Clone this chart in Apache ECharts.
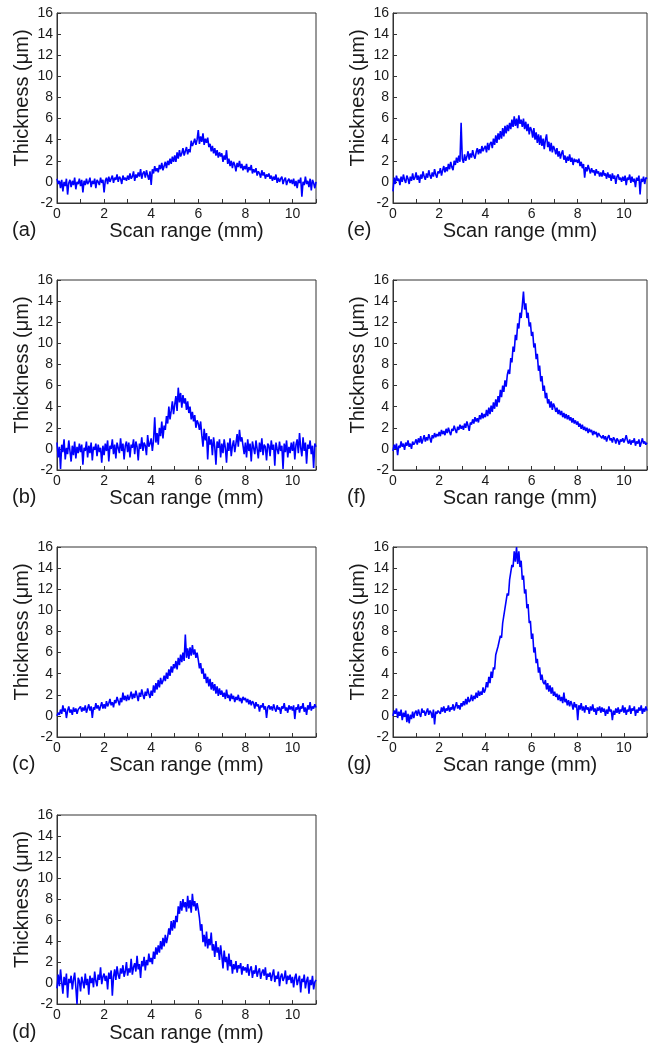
<!DOCTYPE html>
<html>
<head>
<meta charset="utf-8">
<script src="https://cdn.jsdelivr.net/npm/echarts@6/dist/echarts.min.js"></script>
<style>
html,body{margin:0;padding:0;background:#fff;}
#chart{width:650px;height:1044px;}
</style>
</head>
<body>
<div id="chart"></div>
<script>
// Sample spacing along scan (mm)
const scanStep = 0.05;
const xTickLabels = [0, 2, 4, 6, 8, 10];
const yTickLabels = [-2, 0, 2, 4, 6, 8, 10, 12, 14, 16];
const panelLabels = ['(a)', '(b)', '(c)', '(d)', '(e)', '(f)', '(g)'];

// Thickness (um) samples, 0 .. 11 mm
const thickA = [
0.3,-0.2,0.1,-0.6,0.2,-0.9,0.0,-0.4,0.3,-1.2,-0.1,0.2,-0.5,0.1,-0.3,0.4,-0.7,0.0,-0.2,0.3,
-0.4,0.2,-1.0,0.1,-0.3,0.3,-0.2,0.0,0.4,-0.5,0.1,-0.2,0.3,-0.6,0.2,0.0,-0.3,0.4,-0.1,0.2,
-1.0,0.1,0.4,-0.2,0.5,0.0,0.3,0.6,-0.1,0.4,0.2,0.7,0.0,0.5,0.3,-0.2,0.6,0.2,0.4,0.1,
0.6,0.2,0.8,0.3,0.5,1.0,0.1,0.7,0.4,0.9,0.5,1.2,0.3,0.8,1.0,0.4,1.1,0.6,0.2,1.0,
-0.3,1.2,0.8,1.5,1.0,1.3,0.9,1.6,1.2,1.8,1.1,1.5,1.9,1.3,2.0,1.6,2.2,1.7,2.4,1.9,
2.5,1.9,2.8,2.2,3.0,2.4,2.7,3.2,2.5,2.9,3.3,2.6,3.1,2.8,3.9,3.4,3.7,4.1,3.5,4.0,
4.9,3.6,4.3,3.8,4.6,3.5,4.1,3.7,4.2,3.3,3.6,2.9,3.4,2.7,3.2,2.5,3.0,2.3,2.8,2.4,
2.7,1.9,2.5,2.1,3.0,1.7,2.2,1.5,2.0,1.3,1.9,1.6,1.0,1.8,1.4,2.0,1.3,1.7,1.1,1.5,
1.2,1.7,0.9,1.4,1.1,1.6,0.8,1.2,0.9,1.3,0.6,1.0,0.8,0.4,1.1,0.6,0.9,0.3,0.7,0.5,
0.8,0.3,0.6,0.1,0.5,0.2,0.7,-0.1,0.4,0.0,0.3,0.5,-0.2,0.2,0.4,-0.3,0.1,0.3,-0.1,0.2,
-0.2,0.3,-0.4,0.1,-0.6,0.2,-0.1,0.4,-1.4,0.0,-0.3,0.5,-0.2,0.1,-0.5,0.3,-0.8,0.2,-0.1,-0.6,
0.0];

const thickB = [
0.6,-0.8,0.2,-1.9,0.4,-0.3,0.9,-1.0,0.1,-0.5,0.8,-0.2,-1.2,0.3,-0.6,0.7,-0.9,0.2,-0.4,0.5,
-0.3,0.4,-1.5,0.1,-0.2,0.7,-0.8,0.3,-0.4,0.6,-1.1,0.2,-0.1,0.5,-0.7,0.4,-0.3,0.1,-1.3,0.3,
-0.6,0.5,-0.2,0.8,-1.2,0.3,0.0,0.9,-0.5,0.4,-0.9,0.6,0.1,-0.4,1.0,-0.2,0.5,-1.0,0.3,0.7,
-0.3,0.6,-0.8,0.4,0.1,0.9,-0.5,0.7,0.2,-1.1,0.5,0.0,1.1,-0.2,0.6,0.3,-0.6,1.3,0.2,0.5,
1.0,-0.2,0.8,3.0,0.6,1.5,0.4,2.0,1.2,2.6,1.0,2.2,1.8,3.1,2.4,4.0,2.8,3.6,4.5,3.3,
4.2,5.0,3.6,5.8,4.4,5.3,3.9,5.1,4.3,4.8,3.7,4.5,3.4,4.0,2.8,3.5,2.6,3.2,2.0,2.7,
2.4,1.8,2.6,1.3,0.2,1.9,0.8,1.5,-1.0,1.2,0.4,0.9,-0.6,1.1,0.2,-1.5,0.7,0.1,0.9,-0.8,
0.5,-0.4,0.9,0.1,-1.3,0.6,-0.2,1.0,-0.7,0.3,0.8,-0.3,0.5,1.4,0.2,1.8,0.7,1.1,0.3,-0.5,
0.6,-0.8,0.9,-0.2,0.5,-1.2,0.7,0.1,-0.5,0.8,0.0,-0.9,0.6,-0.3,1.0,-0.6,0.4,0.2,-1.1,0.5,
0.3,-0.7,0.8,-0.1,0.4,-1.6,0.6,0.0,-0.5,0.7,-0.2,0.3,-1.9,0.5,-0.3,0.8,-0.8,0.2,-0.4,0.6,
-0.2,0.7,-1.0,0.4,0.9,-0.4,1.5,0.1,-0.7,1.1,-0.2,0.6,-1.4,0.4,0.0,0.8,-0.5,0.3,-1.8,0.5,
0.2];

const thickC = [
0.0,0.3,0.1,0.6,0.2,1.0,0.4,0.7,-0.2,0.5,0.9,0.3,0.6,0.1,0.8,0.4,0.7,0.2,0.6,0.5,
0.9,0.4,0.8,0.5,1.0,0.3,0.7,1.1,0.5,0.9,-0.2,0.8,0.6,1.2,0.7,1.0,0.5,0.9,1.3,0.7,
1.1,0.7,1.4,0.9,1.2,1.6,1.0,1.3,0.8,1.5,1.2,1.8,1.4,1.0,1.7,1.3,2.2,1.5,1.9,1.4,
2.0,1.5,1.8,2.3,1.6,2.1,1.7,2.4,1.9,1.4,2.2,1.8,2.5,2.0,1.6,2.3,1.9,2.6,2.1,1.7,
2.4,1.9,2.9,2.2,3.1,2.5,3.4,2.7,3.6,3.0,3.3,3.8,3.3,4.1,3.5,4.4,3.8,4.7,4.1,4.9,
4.5,5.2,4.4,5.5,4.8,5.8,5.1,6.0,5.2,7.7,5.5,6.4,5.4,6.5,5.7,6.7,5.8,6.3,5.5,6.0,
5.3,4.5,5.0,4.0,4.5,3.5,4.0,3.1,3.7,2.8,3.5,2.5,3.2,2.4,3.0,2.1,2.8,1.9,2.6,2.0,
2.4,1.8,2.2,1.6,2.5,1.7,2.0,1.4,2.1,1.6,1.9,1.3,1.8,1.5,2.0,1.4,1.7,1.2,1.8,1.5,
1.7,1.3,1.6,1.1,1.5,1.0,1.4,1.2,0.7,1.3,0.9,1.1,0.4,1.0,0.8,1.2,0.6,0.9,-0.2,0.8,
1.0,0.6,0.9,0.5,1.1,0.7,0.4,1.0,0.6,0.8,0.2,0.9,0.7,1.2,0.5,0.8,0.3,1.0,0.6,0.9,
0.5,1.0,-0.3,0.8,0.6,1.1,0.3,0.9,0.7,1.2,0.4,0.8,0.1,1.0,0.6,1.3,0.5,0.9,0.7,1.1,
0.8];

const thickD = [
-0.5,0.8,-0.3,1.3,0.1,-1.0,0.6,-0.2,0.9,-1.4,0.4,0.0,0.7,-0.6,0.3,1.0,-0.4,-2.0,0.5,0.2,
-0.8,0.6,0.1,-0.5,0.9,-0.2,0.4,-1.1,0.7,0.0,0.5,-0.4,1.1,0.2,-0.3,0.8,0.3,1.5,-0.1,0.6,
0.9,0.2,0.7,-0.6,1.0,0.4,1.2,-1.2,0.6,1.3,0.3,1.6,0.8,0.4,1.4,0.9,1.7,0.6,1.1,2.0,
0.7,1.4,1.0,2.3,0.8,1.5,1.9,1.1,2.6,1.3,1.8,0.5,2.1,1.6,2.5,1.2,2.2,1.7,2.8,2.0,
2.4,1.8,3.0,2.3,3.4,2.7,3.6,2.9,4.0,3.2,4.3,3.5,4.6,3.8,4.4,5.2,4.6,5.9,5.0,6.0,
5.2,6.4,5.8,7.3,6.6,7.8,6.9,8.0,7.2,7.7,6.8,8.3,7.1,7.9,6.7,8.5,7.3,7.8,6.9,7.6,
7.0,6.2,5.0,5.6,3.9,4.6,3.5,4.9,3.3,4.2,3.6,4.8,3.1,3.7,2.5,4.0,2.9,3.4,2.2,3.6,
2.6,1.4,3.1,2.0,2.5,1.2,2.8,1.6,2.2,0.9,1.8,1.3,2.1,1.0,1.7,1.4,1.9,0.8,1.6,1.2,
1.5,1.0,1.8,0.7,1.3,1.6,0.5,1.2,0.9,1.7,0.6,1.1,1.4,0.4,1.0,1.3,0.7,1.5,0.3,0.9,
0.6,1.0,0.2,0.8,1.3,0.1,0.7,0.4,1.1,-0.3,0.6,0.9,0.2,0.5,1.2,-0.1,0.7,0.3,0.8,0.0,
0.6,-0.4,0.5,0.9,-0.2,0.3,0.7,-0.9,0.4,0.1,0.8,-0.5,0.2,0.6,-1.0,0.3,-0.2,0.7,-0.6,0.1,
0.3];

const thickE = [
-0.9,0.4,-0.2,0.6,0.1,0.3,-0.3,0.5,0.0,0.7,0.2,-0.1,0.6,0.3,-0.2,0.5,0.1,0.8,0.2,0.4,
0.9,0.2,0.6,-0.1,0.7,0.3,1.0,0.5,0.2,0.8,0.4,1.1,0.6,0.3,0.9,0.5,1.2,0.7,0.4,1.0,
0.8,1.3,0.6,1.1,1.5,0.9,1.4,1.0,1.7,1.2,1.9,1.4,1.1,2.0,1.6,2.3,1.8,2.5,1.9,5.6,
2.2,1.8,2.6,2.0,2.4,2.9,2.1,2.7,2.3,3.0,2.5,2.2,2.8,3.2,2.6,3.1,2.7,3.4,2.9,3.2,
3.4,2.8,3.7,3.0,3.6,3.8,3.2,4.1,3.5,4.4,3.7,4.6,4.0,4.8,4.1,5.1,4.3,5.3,4.6,5.4,
4.8,5.6,5.0,5.9,5.2,6.2,5.3,6.0,5.1,6.3,5.5,5.9,5.2,6.0,5.0,5.7,4.8,5.5,4.5,5.2,
4.9,4.2,5.1,4.0,4.7,3.7,4.5,3.5,4.4,3.4,4.1,3.1,4.0,4.5,3.3,3.8,2.9,3.7,2.8,3.4,
3.1,2.6,3.2,2.4,2.9,2.2,2.7,3.0,2.1,2.5,1.8,2.4,2.0,2.6,1.9,2.3,1.6,2.2,1.9,2.1,
1.8,2.2,1.5,1.9,1.3,1.7,0.4,1.4,1.0,1.6,1.2,0.8,1.3,0.9,1.1,0.6,1.2,0.8,1.0,0.5,
0.9,0.5,1.1,0.6,0.8,0.3,0.9,0.4,0.7,0.1,0.8,0.3,0.6,-0.2,0.5,0.7,0.2,0.4,0.0,0.5,
0.1,0.6,-0.3,0.4,0.2,0.7,-0.1,0.5,0.0,0.3,-0.5,0.4,0.1,0.6,-1.2,0.3,0.0,0.5,-0.2,0.4,
0.3];

const thickF = [
-0.2,0.4,0.0,0.5,-0.6,0.3,0.1,0.7,0.2,0.5,-0.1,0.6,0.3,0.8,0.2,0.5,0.0,0.7,0.4,0.6,
0.9,0.4,1.0,0.6,1.2,0.5,0.9,1.3,0.7,1.1,0.8,1.4,1.0,0.6,1.3,1.0,1.5,1.1,1.4,1.2,
1.6,1.2,1.8,1.4,1.7,1.3,1.9,1.5,2.0,1.6,1.3,1.9,1.7,2.2,1.8,1.5,2.1,1.8,2.3,1.9,
2.2,1.8,2.4,2.0,2.6,2.2,1.7,2.5,2.3,2.8,2.4,3.0,2.6,2.9,2.5,3.2,2.8,3.4,2.9,3.3,
3.0,3.7,3.1,3.9,3.3,4.1,3.5,4.4,3.8,4.7,4.0,5.0,4.4,5.6,4.9,6.0,5.4,6.5,5.9,7.0,
7.5,7.1,8.6,8.2,9.7,9.2,10.8,10.3,11.9,11.4,12.9,12.4,13.6,14.9,13.2,13.8,12.4,12.9,11.6,12.0,
10.7,11.1,9.6,10.0,8.5,9.0,7.4,7.9,6.4,6.9,5.5,6.0,4.8,5.3,4.3,4.7,3.9,4.5,3.7,4.3,
4.0,3.5,3.9,3.3,3.7,3.2,3.6,3.0,3.4,2.9,3.3,2.8,3.2,2.7,3.0,2.5,2.9,2.4,2.7,2.3,
2.6,2.1,2.4,1.9,2.3,1.8,2.1,1.7,2.0,1.5,1.9,1.6,1.8,1.3,1.7,1.4,1.6,1.1,1.5,1.3,
1.4,1.0,1.3,0.9,1.2,0.7,1.1,1.3,0.8,1.0,0.6,1.1,0.9,0.5,1.0,0.8,0.4,0.9,0.7,1.0,
0.6,0.9,1.3,0.8,0.5,0.9,0.4,0.8,0.6,1.0,0.3,0.7,0.5,0.9,0.2,0.6,1.0,0.5,0.7,0.4,
0.6];

const thickG = [
0.0,0.5,0.2,0.7,-0.2,0.4,0.0,0.6,-0.4,0.3,-0.1,0.5,-0.6,0.2,-0.7,0.1,-0.3,0.4,-0.2,0.3,
0.5,0.0,0.6,0.2,-0.1,0.7,0.3,0.5,0.0,0.4,0.7,0.1,0.5,0.3,-0.2,0.6,-0.8,0.4,0.2,0.5,
0.6,0.2,0.8,0.4,0.9,0.3,0.7,0.5,1.0,0.4,0.8,0.6,1.1,0.5,0.9,1.3,0.7,1.0,0.6,1.2,
0.9,1.4,1.0,1.6,1.1,1.8,1.3,1.5,2.0,1.4,1.9,1.6,2.2,1.7,2.4,1.9,2.3,2.0,2.7,2.2,
2.5,3.2,2.7,3.7,3.1,4.2,3.6,4.6,4.4,5.8,5.9,6.6,6.5,7.6,7.4,8.8,8.8,10.2,10.2,11.6,
11.4,12.9,12.8,14.3,14.1,15.6,14.6,16.0,14.4,15.6,14.1,14.7,12.9,13.3,11.6,12.0,10.2,10.6,8.8,9.0,
7.3,7.8,6.0,6.5,5.0,5.4,4.1,4.6,3.4,3.9,3.2,3.0,3.4,2.5,3.1,2.3,2.9,2.1,2.7,1.9,
2.3,1.8,2.1,1.5,2.0,1.4,1.8,1.2,2.2,1.3,1.6,1.0,1.5,0.9,1.4,1.1,0.6,1.3,0.8,1.1,
-0.4,1.0,0.6,1.2,0.5,0.9,0.3,1.0,0.6,0.8,0.2,0.9,0.5,1.1,0.4,0.7,0.1,0.8,0.5,0.9,
0.3,0.8,0.4,0.7,0.0,0.6,0.2,0.9,0.4,0.6,-0.4,0.5,0.1,0.7,0.3,0.8,0.2,0.6,0.4,1.0,
0.3,0.8,0.1,0.6,0.4,1.0,0.2,0.7,0.5,0.9,0.0,0.6,0.3,0.8,0.5,1.0,0.2,0.7,0.4,0.9,
0.5];

const panelData = [thickA, thickB, thickC, thickD, thickE, thickF, thickG];

// ---- layout ----
const FONT = '"Liberation Sans", Arial, Helvetica, sans-serif';
const TXT = '#1a1a1a';
const AX = '#333333';
const colLeft = [57, 393];
const colWidth = [259, 256];
const rowTop = [13, 280, 547, 815];
const plotH = 190;
// panel index -> [col, row]
const place = [[0,0],[0,1],[0,2],[0,3],[1,0],[1,1],[1,2]];

const grids = [], xAxes = [], yAxes = [], series = [], graphics = [];
place.forEach(([c, r], i) => {
  grids.push({
    left: colLeft[c], top: rowTop[r], width: colWidth[c], height: plotH,
    show: true, borderColor: AX, borderWidth: 1, backgroundColor: 'transparent'
  });
  xAxes.push({
    gridIndex: i, type: 'value', min: 0, max: 11, interval: 1,
    name: 'Scan range (mm)', nameLocation: 'middle', nameGap: 17,
    nameTextStyle: { fontFamily: FONT, fontSize: 20, color: TXT },
    axisLine: { show: true, onZero: false, lineStyle: { color: AX, width: 1 } },
    axisTick: { show: true, inside: true, length: 4, lineStyle: { color: AX } },
    axisLabel: {
      fontFamily: FONT, fontSize: 14, color: TXT, margin: 4,
      formatter: v => (xTickLabels.indexOf(v) >= 0 ? String(v) : '')
    },
    splitLine: { show: false }
  });
  yAxes.push({
    gridIndex: i, type: 'value', min: -2, max: 16, interval: 2,
    name: 'Thickness (\u03bcm)', nameLocation: 'middle', nameGap: 25,
    nameTextStyle: { fontFamily: FONT, fontSize: 20, color: TXT, padding: [0, 0, 0, 20] },
    axisLine: { show: true, onZero: false, lineStyle: { color: AX, width: 1 } },
    axisTick: { show: true, inside: true, length: 4, lineStyle: { color: AX } },
    axisLabel: {
      fontFamily: FONT, fontSize: 14, color: TXT, margin: 4,
      formatter: v => (yTickLabels.indexOf(v) >= 0 ? String(v) : '')
    },
    splitLine: { show: false }
  });
  series.push({
    type: 'line', xAxisIndex: i, yAxisIndex: i,
    data: panelData[i].map((v, k) => [+(k * scanStep).toFixed(2), v]),
    showSymbol: false, symbol: 'none',
    lineStyle: { color: '#0000ff', width: 1.6 },
    clip: true, silent: true
  });
  graphics.push({
    type: 'text',
    left: c === 0 ? 12 : 347,
    top: rowTop[r] + plotH + 17,
    style: { text: panelLabels[i], font: '20px ' + FONT, fill: TXT }
  });
});

const chart = echarts.init(document.getElementById('chart'), null, { renderer: 'canvas' });
chart.setOption({
  animation: false,
  backgroundColor: '#ffffff',
  grid: grids, xAxis: xAxes, yAxis: yAxes, series: series,
  graphic: graphics
});
</script>
</body>
</html>
